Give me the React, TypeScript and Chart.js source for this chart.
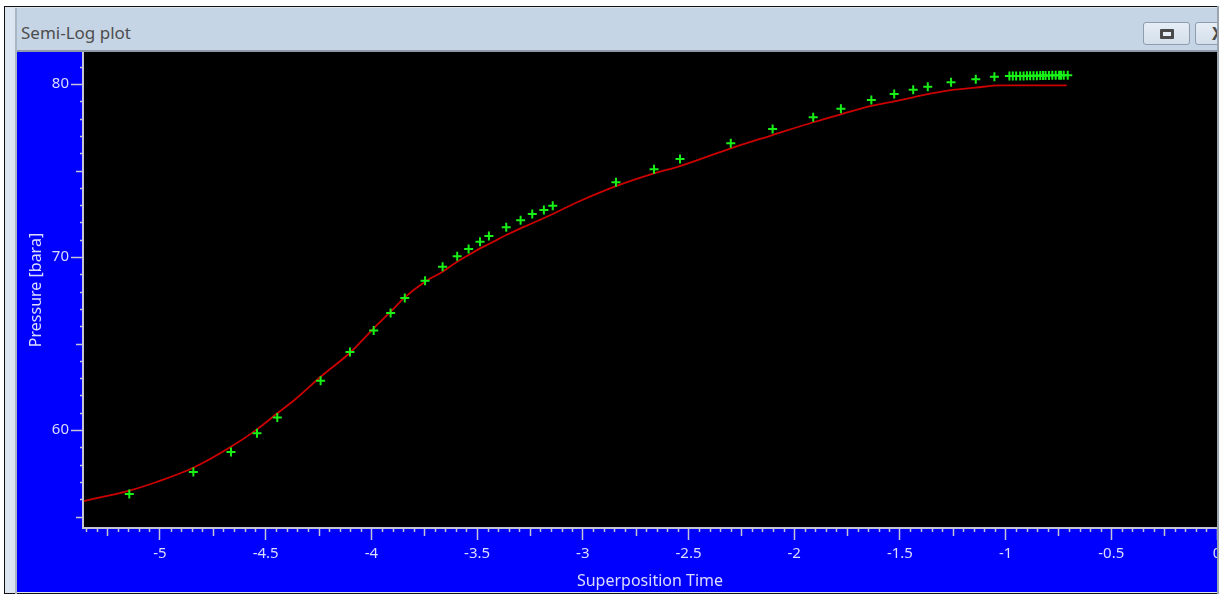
import React, { useEffect, useRef } from "react";
import { Chart, registerables } from "chart.js";

Chart.register(...registerables);

// ---- data ----
const measuredTime = [
  -5.145, -4.842, -4.664, -4.541, -4.445, -4.24, -4.101, -3.989, -3.909, -3.842,
  -3.746, -3.663, -3.594, -3.54, -3.486, -3.444, -3.362, -3.294, -3.239, -3.184,
  -3.142, -2.843, -2.663, -2.54, -2.3, -2.102, -1.91, -1.779, -1.635, -1.527,
  -1.437, -1.368, -1.258, -1.141, -1.053,
  -0.982, -0.966, -0.95, -0.931, -0.915, -0.899, -0.884, -0.868, -0.852, -0.836,
  -0.823, -0.811, -0.795, -0.779, -0.763, -0.747, -0.738, -0.725, -0.706,
];
const measuredPressure = [
  56.3, 57.57, 58.73, 59.81, 60.73, 62.85, 64.51, 65.76, 66.76, 67.63,
  68.63, 69.44, 70.04, 70.46, 70.88, 71.21, 71.72, 72.12, 72.49, 72.72,
  72.97, 74.32, 75.07, 75.66, 76.57, 77.4, 78.08, 78.57, 79.08, 79.42,
  79.67, 79.84, 80.1, 80.27, 80.42,
  80.46, 80.46, 80.47, 80.47, 80.47, 80.48, 80.48, 80.48, 80.48, 80.49,
  80.49, 80.49, 80.49, 80.5, 80.5, 80.5, 80.5, 80.5, 80.5,
];
const fitTime = [
  -5.36, -5.145, -5.016, -4.842, -4.664, -4.541, -4.445, -4.361, -4.24, -4.101,
  -3.989, -3.909, -3.842, -3.746, -3.663, -3.594, -3.54, -3.486, -3.444, -3.362,
  -3.294, -3.239, -3.142, -3.013, -2.843, -2.663, -2.54, -2.3, -2.102, -1.91,
  -1.779, -1.635, -1.527, -1.437, -1.368, -1.258, -1.141, -1.026, -0.711,
];
const fitPressure = [
  55.9, 56.5, 57.0, 57.82, 59.03, 60.04, 60.97, 61.77, 63.08, 64.47,
  65.88, 66.84, 67.67, 68.57, 69.15, 69.73, 70.12, 70.5, 70.75, 71.27,
  71.66, 71.95, 72.49, 73.24, 74.1, 74.84, 75.26, 76.28, 77.05, 77.79,
  78.25, 78.73, 79.0, 79.23, 79.42, 79.65, 79.79, 79.92, 79.92,
];
const xTickValues = [-5, -4.5, -4, -3.5, -3, -2.5, -2, -1.5, -1, -0.5, 0];
const yTickValues = [60, 70, 80];

const X_MIN = -5.364;
const X_MAX = 0;
const Y_MIN = 54.34;
const Y_MAX = 81.85;
const X_MINOR = 0.05;
const Y_MINOR = 1;

const BLUE = "#0000ff";
const AXIS = "#c4c4d4";
const LABEL = "#dcdcff";
const FONT = "'Noto Sans', 'Open Sans', sans-serif";

const bgPlugin = {
  id: "bgPlugin",
  beforeDraw(chart: any) {
    const { ctx, chartArea, width, height } = chart;
    ctx.save();
    ctx.fillStyle = BLUE;
    ctx.fillRect(0, 0, width, height);
    ctx.fillStyle = "#000000";
    ctx.fillRect(chartArea.left, chartArea.top, chartArea.right - chartArea.left, chartArea.bottom - chartArea.top);
    ctx.restore();
  },
};

const minorTicksPlugin = {
  id: "minorTicks",
  afterDraw(chart: any) {
    const { ctx, chartArea } = chart;
    const x = chart.scales.x;
    const y = chart.scales.y;
    ctx.save();
    ctx.strokeStyle = AXIS;
    ctx.lineWidth = 1.5;
    ctx.beginPath();
    const i0 = Math.ceil(x.min / X_MINOR - 1e-6);
    const i1 = Math.floor(x.max / X_MINOR + 1e-6);
    for (let i = i0; i <= i1; i++) {
      if (i % 10 === 0) continue;
      const len = i % 5 === 0 ? 8 : 4;
      const px = Math.round(x.getPixelForValue(i * X_MINOR)) + 0.5;
      ctx.moveTo(px, chartArea.bottom);
      ctx.lineTo(px, chartArea.bottom + len);
    }
    const j0 = Math.ceil(y.min / Y_MINOR - 1e-6);
    const j1 = Math.floor(y.max / Y_MINOR + 1e-6);
    for (let j = j0; j <= j1; j++) {
      if (j % 10 === 0) continue;
      const len = j % 5 === 0 ? 7 : 3;
      const py = Math.round(y.getPixelForValue(j * Y_MINOR)) + 0.5;
      ctx.moveTo(chartArea.left, py);
      ctx.lineTo(chartArea.left - len, py);
    }
    ctx.stroke();
    ctx.restore();
  },
};

function SemiLogChart() {
  const ref = useRef<HTMLCanvasElement | null>(null);
  useEffect(() => {
    if (!ref.current) return;
    const chart = new Chart(ref.current, {
      type: "scatter",
      data: {
        datasets: [
          {
            label: "Measured",
            data: measuredTime.map((t, i) => ({ x: t, y: measuredPressure[i] })),
            pointStyle: "cross",
            pointRadius: 4.5,
            pointHoverRadius: 4.5,
            borderColor: "#18f018",
            backgroundColor: "#18f018",
            pointBorderWidth: 2,
            showLine: false,
          },
          {
            label: "Fit",
            data: fitTime.map((t, i) => ({ x: t, y: fitPressure[i] })),
            showLine: true,
            borderColor: "#cc0000",
            borderWidth: 1.8,
            pointRadius: 0,
            cubicInterpolationMode: "monotone",
            fill: false,
          },
        ],
      },
      options: {
        responsive: false,
        maintainAspectRatio: false,
        animation: false,
        devicePixelRatio: 1,
        layout: { padding: 0, autoPadding: false },
        plugins: { legend: { display: false }, tooltip: { enabled: false } },
        scales: {
          x: {
            type: "linear",
            min: X_MIN,
            max: X_MAX,
            afterBuildTicks: (axis: any) => {
              axis.ticks = xTickValues.map((v) => ({ value: v }));
            },
            afterFit: (axis: any) => {
              axis.height = 64;
              axis.paddingLeft = 0;
              axis.paddingRight = 0;
            },
            border: { display: true, color: AXIS, width: 2 },
            grid: { display: true, drawOnChartArea: false, drawTicks: true, tickLength: 12, tickColor: AXIS, tickWidth: 1.5 },
            ticks: {
              color: LABEL,
              font: { family: FONT, size: 15 },
              padding: 5,
              maxRotation: 0,
              minRotation: 0,
              autoSkip: false,
              callback: (v: any) => String(v),
            },
            title: {
              display: true,
              text: "Superposition Time",
              color: LABEL,
              font: { family: FONT, size: 16 },
              padding: { top: 0, bottom: 1 },
            },
          },
          y: {
            type: "linear",
            min: Y_MIN,
            max: Y_MAX,
            afterBuildTicks: (axis: any) => {
              axis.ticks = yTickValues.map((v) => ({ value: v }));
            },
            afterFit: (axis: any) => {
              axis.width = 66;
              axis.paddingTop = 0;
              axis.paddingBottom = 0;
            },
            border: { display: true, color: AXIS, width: 2 },
            grid: { display: true, drawOnChartArea: false, drawTicks: true, tickLength: 12, tickColor: AXIS, tickWidth: 1.5 },
            ticks: {
              color: LABEL,
              font: { family: FONT, size: 15 },
              padding: 2,
              autoSkip: false,
              callback: (v: any) => String(v),
            },
            title: {
              display: true,
              text: "Pressure [bara]",
              color: LABEL,
              font: { family: FONT, size: 16 },
              padding: { top: 10, bottom: 0 },
            },
          },
        },
      },
      plugins: [bgPlugin, minorTicksPlugin],
    } as any);
    return () => chart.destroy();
  }, []);
  return (
    <canvas
      ref={ref}
      width={1200}
      height={540}
      style={{ position: "absolute", left: 17, top: 52, width: 1200, height: 540, display: "block" }}
    />
  );
}

export default function App() {
  useEffect(() => {
    document.body.style.margin = "0";
    document.body.style.background = "#ffffff";
  }, []);
  return (
    <div style={{ position: "relative", width: 1222, height: 595, overflow: "hidden", background: "#ffffff", fontFamily: FONT }}>
      {/* window frame */}
      <div
        style={{
          position: "absolute",
          left: 4,
          top: 6,
          width: 1214,
          height: 588,
          borderTop: "1px solid #111",
          borderLeft: "1px solid #111",
          borderBottom: "1px solid #111",
          background: "#dbe6f1",
          boxSizing: "border-box",
        }}
      />
      {/* title bar */}
      <div
        style={{
          position: "absolute",
          left: 15,
          top: 8,
          width: 1203,
          height: 42,
          background: "#c6d5e5",
        }}
      />
      <div style={{ position: "absolute", left: 15, top: 50, width: 1203, height: 2, background: "#8d99a6" }} />
      <div style={{ position: "absolute", left: 15, top: 8, width: 2, height: 586, background: "#a9b6c4" }} />
      <div
        style={{
          position: "absolute",
          left: 21,
          top: 21,
          fontSize: 17,
          color: "#4d4d4d",
          lineHeight: "24px",
          whiteSpace: "nowrap",
        }}
      >
        Semi-Log plot
      </div>
      {/* buttons */}
      <div
        style={{
          position: "absolute",
          left: 1143,
          top: 22,
          width: 47,
          height: 23,
          border: "1px solid #8e9cad",
          borderRadius: 3,
          background: "linear-gradient(#e6edf5, #d3dfeb)",
          boxSizing: "border-box",
        }}
      >
        <div
          style={{
            position: "absolute",
            left: 16,
            top: 6,
            width: 14,
            height: 10,
            background: "#4a4a4a",
            borderRadius: 1,
          }}
        >
          <div style={{ position: "absolute", left: 3, top: 3, width: 8, height: 4, background: "#e8eef5" }} />
        </div>
      </div>
      <div
        style={{
          position: "absolute",
          left: 1195,
          top: 22,
          width: 47,
          height: 23,
          border: "1px solid #8e9cad",
          borderRadius: 3,
          background: "linear-gradient(#e6edf5, #d3dfeb)",
          boxSizing: "border-box",
          overflow: "hidden",
        }}
      >
        <div style={{ position: "absolute", left: 16, top: 0, fontSize: 17, lineHeight: "21px", color: "#4a4a4a", fontWeight: 700 }}>X</div>
      </div>
      <SemiLogChart />
      {/* right edge of the captured window */}
      <div style={{ position: "absolute", left: 1217, top: 6, width: 2, height: 588, background: "#9aa5b0" }} />
      <div style={{ position: "absolute", left: 1219, top: 6, width: 3, height: 589, background: "#ffffff" }} />
    </div>
  );
}
